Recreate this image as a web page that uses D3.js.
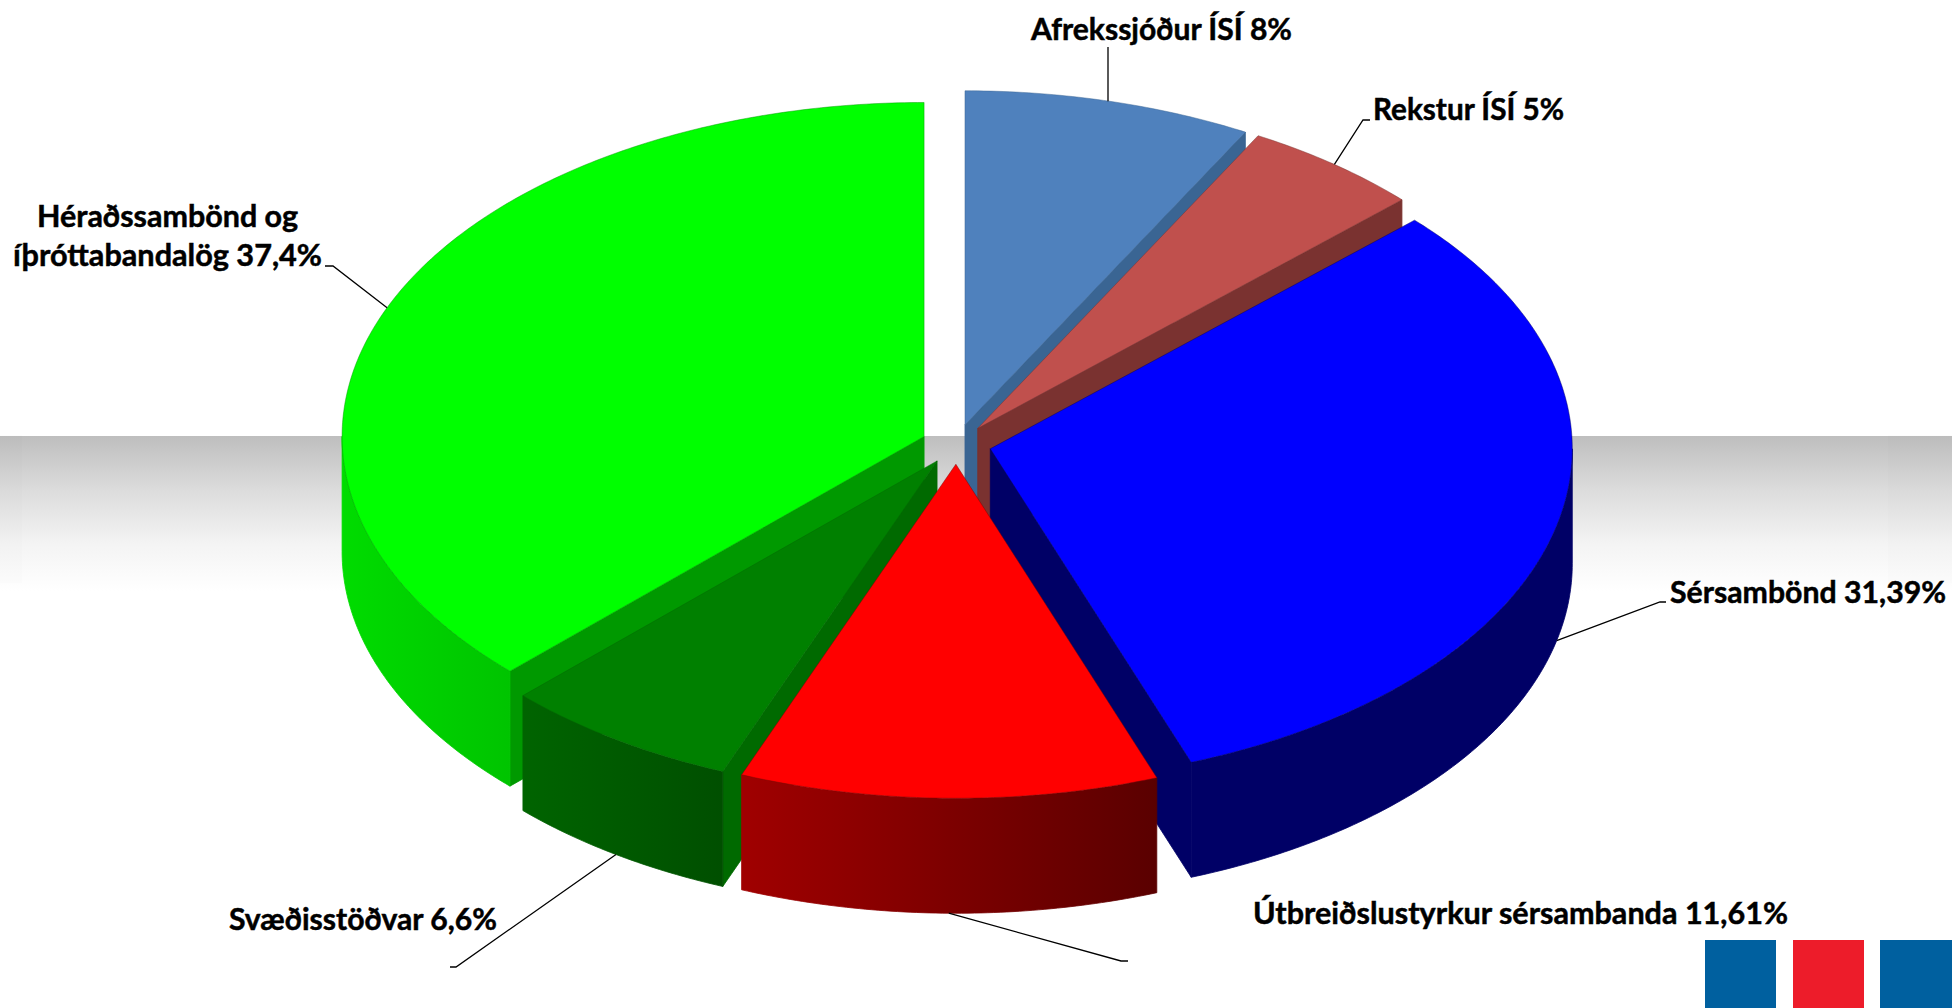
<!DOCTYPE html>
<html>
<head>
<meta charset="utf-8">
<script src="https://cdn.jsdelivr.net/npm/d3@7"></script>
<style>
  html, body { margin: 0; padding: 0; background: #fff; overflow: hidden; }
  svg { display: block; }
  .lbl { font-family: Lato, "Open Sans", sans-serif; font-weight: 700; font-size: 31px; fill: #000; stroke: #000; stroke-width: 0.5; }
</style>
</head>
<body>
<div id="chart"></div>
<script>
var width = 1952;
var height = 1008;

// chart values, clockwise from the top
var categories = ["Afrekssjóður ÍSÍ", "Rekstur ÍSÍ", "Sérsambönd", "Útbreiðslustyrkur sérsambanda", "Svæðisstöðvar", "Héraðssambönd og íþróttabandalög"];
var shares = [8, 5, 31.39, 11.61, 6.6, 37.4];
var shareLabels = ["8%", "5%", "31,39%", "11,61%", "6,6%", "37,4%"];

// face colours per slice
var topColors = ["#4f81bd", "#c0504d", "#0000ff", "#ff0000", "#008000", "#00ff00"];
var sideColors = ["#3a6593", "#7a3230", "#000066", "#800000", "#006a00", "#009900"];
var wallLeft = ["#3a6593", "#7a3230", "#000066", "#a00000", "#006400", "#00dc00"];
var wallRight = ["#3a6593", "#7a3230", "#000066", "#5a0000", "#004f00", "#00c400"];

// pie geometry
var cx = 956.3, cy = 444.2, rx = 582, ry = 334, depth = 115, explode = 0.06;

var x = d3.scaleLinear().domain([-1, 1]).range([cx - rx, cx + rx]);
var y = d3.scaleLinear().domain([-1, 1]).range([cy + ry, cy - ry]);

var svg = d3.select("#chart").append("svg")
  .attr("width", width)
  .attr("height", height);

var defs = svg.append("defs");

// grey band behind the pie
var band = defs.append("linearGradient").attr("id", "band")
  .attr("x1", 0).attr("y1", 0).attr("x2", 0).attr("y2", 1);
band.append("stop").attr("offset", 0).attr("stop-color", "#bebebe");
band.append("stop").attr("offset", 0.35).attr("stop-color", "#dcdcdc");
band.append("stop").attr("offset", 0.7).attr("stop-color", "#f4f4f4");
band.append("stop").attr("offset", 1).attr("stop-color", "#ffffff");

svg.append("rect").attr("width", width).attr("height", height).attr("fill", "#fff");
svg.append("rect")
  .attr("x", 0).attr("y", 436)
  .attr("width", width).attr("height", 155)
  .attr("fill", "url(#band)");

// the band is a touch darker at both picture edges
[[0, 22], [1888, 64]].forEach(function(e) {
  svg.append("rect")
    .attr("x", e[0]).attr("y", 435)
    .attr("width", e[1]).attr("height", 148)
    .attr("fill", "#000")
    .attr("fill-opacity", 0.006);
});

var pie = d3.pie().sort(null).value(function(d) { return d; });
var slices = pie(shares).map(function(d, i) {
  var mid = (d.startAngle + d.endAngle) / 2;
  return {
    i: i,
    a0: d.startAngle,
    a1: d.endAngle,
    mid: mid,
    ox: explode * Math.sin(mid),
    oy: explode * Math.cos(mid)
  };
});

var line = d3.line().curve(d3.curveLinear);

function rim(s, a, drop) {
  return [x(s.ox + Math.sin(a)), y(s.oy + Math.cos(a)) + drop];
}

function apex(s, drop) {
  return [x(s.ox), y(s.oy) + drop];
}

function arcPoints(s, a0, a1, drop) {
  var n = Math.max(2, Math.ceil((a1 - a0) * 90));
  return d3.range(n + 1).map(function(k) {
    return rim(s, a0 + (a1 - a0) * k / n, drop);
  });
}

// back slices first so the front ones sit on top
var order = slices.slice().sort(function(a, b) { return b.oy - a.oy; });

order.forEach(function(s) {
  var g = svg.append("g");
  var edge = sideColors[s.i];

  // radial walls, only those that turn towards the viewer
  [[s.a0, -1], [s.a1, 1]].forEach(function(w) {
    var a = w[0];
    var facing = w[1] * -Math.sin(a);
    if (facing < -0.001) {
      var pts = [apex(s, 0), rim(s, a, 0), rim(s, a, depth), apex(s, depth)];
      g.append("path")
        .attr("d", line(pts) + "Z")
        .attr("fill", sideColors[s.i])
        .attr("stroke", edge)
        .attr("stroke-width", 0.8);
    }
  });

  // outer wall, front half of the ellipse
  var f0 = Math.max(s.a0, Math.PI / 2);
  var f1 = Math.min(s.a1, Math.PI * 1.5);
  if (f1 > f0) {
    var top = arcPoints(s, f0, f1, 0);
    var bottom = arcPoints(s, f0, f1, depth).reverse();
    var xs = d3.extent(top, function(p) { return p[0]; });
    var id = "wall" + s.i;
    var grad = defs.append("linearGradient").attr("id", id)
      .attr("gradientUnits", "userSpaceOnUse")
      .attr("x1", xs[0]).attr("y1", 0).attr("x2", xs[1]).attr("y2", 0);
    grad.append("stop").attr("offset", 0).attr("stop-color", wallLeft[s.i]);
    grad.append("stop").attr("offset", 1).attr("stop-color", wallRight[s.i]);
    g.append("path")
      .attr("d", line(top.concat(bottom)) + "Z")
      .attr("fill", "url(#" + id + ")")
      .attr("stroke", "url(#" + id + ")")
      .attr("stroke-width", 0.8);
  }

  // top face
  g.append("path")
    .attr("d", line([apex(s, 0)].concat(arcPoints(s, s.a0, s.a1, 0))) + "Z")
    .attr("fill", topColors[s.i])
    .attr("stroke", edge)
    .attr("stroke-opacity", 0.6)
    .attr("stroke-width", 0.8);
});

// leader lines start on the slice rim at its mid angle
var leaderBends = [
  [[1108, 47]],
  [[1363, 120], [1370, 120]],
  [[1660, 602], [1666, 602]],
  [[1121, 961], [1128, 961]],
  [[456, 967], [450, 967]],
  [[333, 266], [325, 266]]
];

slices.forEach(function(s) {
  var drop = Math.cos(s.mid) < 0 ? depth : 0;
  var start = rim(s, s.mid, drop);
  // a leader with no elbow runs straight up
  if (leaderBends[s.i].length == 1) {
    start[0] = leaderBends[s.i][0][0];
  }
  svg.append("path")
    .attr("d", line([start].concat(leaderBends[s.i])))
    .attr("fill", "none")
    .attr("stroke", "#000")
    .attr("stroke-width", 1.3);
});

// labels
var labelRows = [
  [{ t: categories[0] + " " + shareLabels[0], x: 1031, y: 40, w: 261 }],
  [{ t: categories[1] + " " + shareLabels[1], x: 1373, y: 120, w: 191 }],
  [{ t: categories[2] + " " + shareLabels[2], x: 1670, y: 603, w: 276 }],
  [{ t: categories[3] + " " + shareLabels[3], x: 1253, y: 924, w: 535 }],
  [{ t: categories[4] + " " + shareLabels[4], x: 229, y: 930, w: 268 }],
  [{ t: "Héraðssambönd og", x: 37, y: 227, w: 261 },
   { t: "íþróttabandalög " + shareLabels[5], x: 13, y: 266, w: 309 }]
];

labelRows.forEach(function(rows) {
  rows.forEach(function(r) {
    svg.append("text")
      .attr("class", "lbl")
      .attr("x", r.x)
      .attr("y", r.y)
      .attr("textLength", r.w)
      .attr("lengthAdjust", "spacingAndGlyphs")
      .text(r.t);
  });
});

// flag bars bottom right
var flagBars = [[1705, 71, "#00609f"], [1793, 71, "#ed1c2a"], [1880, 72, "#00609f"]];
svg.selectAll("rect.flag").data(flagBars).enter().append("rect")
  .attr("class", "flag")
  .attr("x", function(d) { return d[0]; })
  .attr("y", 940)
  .attr("width", function(d) { return d[1]; })
  .attr("height", 68)
  .attr("fill", function(d) { return d[2]; });
</script>
</body>
</html>
